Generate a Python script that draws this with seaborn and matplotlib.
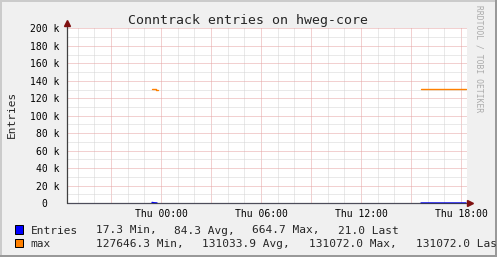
import matplotlib
matplotlib.use("Agg")
import matplotlib.pyplot as plt
from matplotlib.patches import Rectangle
from matplotlib.lines import Line2D
import numpy as np
import pandas as pd
import seaborn as sns

# ---------------- data ----------------
title = "Conntrack entries on hweg-core"
y_label = "Entries"
watermark = "RRDTOOL / TOBI OETIKER"

# hours relative to Thu 00:00
entries_hours = [-0.54, -0.42, -0.30, -0.24, 15.6, 16.5, 17.4, 18.3]
entries_values = [664.7, 300.0, 120.0, 60.0, 40.0, 25.0, 17.3, 21.0]
entries_segment = [0, 0, 0, 0, 1, 1, 1, 1]

max_hours = [-0.54, -0.30, -0.20, 15.6, 18.3]
max_values = [131072.0, 129100.0, 129100.0, 131072.0, 131072.0]
max_segment = [0, 0, 0, 1, 1]

x_range = [-5.64, 18.36]
x_label_hours = [0, 6, 12, 18]
x_labels = ["Thu 00:00", "Thu 06:00", "Thu 12:00", "Thu 18:00"]
y_ticks = [0, 20000, 40000, 60000, 80000, 100000, 120000, 140000, 160000, 180000, 200000]
y_tick_labels = ["0  ", "20 k", "40 k", "60 k", "80 k", "100 k", "120 k",
                 "140 k", "160 k", "180 k", "200 k"]

legend_names = ["Entries", "max"]
legend_colors = ["#0000FF", "#FF8000"]
legend_stats = [
    ["17.3 Min,", "84.3 Avg,", "664.7 Max,", "21.0 Last"],
    ["127646.3 Min,", "131033.9 Avg,", "131072.0 Max,", "131072.0 Last"],
]

df_entries = pd.DataFrame({"hour": entries_hours, "value": entries_values, "segment": entries_segment})
df_max = pd.DataFrame({"hour": max_hours, "value": max_values, "segment": max_segment})

# ---------------- style ----------------
W, H = 497, 257
BG = "#F0F0F0"
AXIS = "#404040"
ARROW = "#7F1010"
GRID_MINOR = "#D4D4D4"
GRID_MAJOR = "#E6A3A3"

sns.set_style("white")
plt.rcParams["font.family"] = ["DejaVu Sans Mono"]

def fx(x):
    return x / W

def fy(y):
    return 1 - y / H

fig = plt.figure(figsize=(W / 100, H / 100), dpi=100)
fig.patch.set_facecolor(BG)

left, right, top, bottom = 67, 467, 28.5, 203
ax = fig.add_axes([fx(left), fy(bottom), (right - left) / W, (bottom - top) / H])
ax.set_facecolor("white")

ax.set_xlim(*x_range)
ax.set_ylim(0, 200000)

# grid
ax.set_xticks(np.arange(-3, 19, 3))
ax.set_xticks(np.arange(-5, 19, 1), minor=True)
ax.set_xticklabels([x_labels[x_label_hours.index(h)] if h in x_label_hours else ""
                    for h in np.arange(-3, 19, 3)])
ax.set_yticks(y_ticks)
ax.set_yticks(np.arange(10000, 200000, 20000), minor=True)
ax.set_yticklabels(y_tick_labels)

ax.grid(which="minor", color=GRID_MINOR, linewidth=0.72, linestyle=(0, (1, 1)))
ax.grid(which="major", color=GRID_MAJOR, linewidth=0.72, linestyle=(0, (1, 1)))
ax.set_axisbelow(True)

ax.tick_params(axis="both", which="major", direction="inout", length=2.5, width=0.72,
               color=AXIS, labelsize=7, labelcolor="black")
ax.tick_params(axis="both", which="minor", direction="inout", length=1.5, width=0.72,
               color=AXIS)
ax.tick_params(axis="y", which="major", pad=4.3)
ax.tick_params(axis="x", which="major", pad=2.8)

for s in ax.spines.values():
    s.set_visible(False)

# series
sns.lineplot(data=df_entries, x="hour", y="value", units="segment", estimator=None,
             color=legend_colors[0], linewidth=1.0, ax=ax, legend=False, zorder=2.5,
             clip_on=False)
sns.lineplot(data=df_max, x="hour", y="value", units="segment", estimator=None,
             color=legend_colors[1], linewidth=1.0, drawstyle="steps-post",
             ax=ax, legend=False, zorder=4)
ax.set_xlabel("")
ax.set_ylabel("")

# axis lines and arrows
ax.plot([0, 1.003], [0, 0], transform=ax.transAxes, clip_on=False, color="#303040",
        lw=0.9, alpha=0.85, zorder=3)
ax.plot([0, 0], [0, 1.02], transform=ax.transAxes, clip_on=False, color=AXIS, lw=0.9, zorder=3)
ax.plot([(470 - left) / (right - left)], [0], marker=">", markersize=4, color=ARROW,
        transform=ax.transAxes, clip_on=False, zorder=5)
ax.plot([0], [(bottom - 23.5) / (bottom - top)], marker="^", markersize=4, color=ARROW,
        transform=ax.transAxes, clip_on=False, zorder=5)

# texts
fig.text(fx(247.5), fy(24), title, ha="center", va="baseline", fontsize=9.5)
fig.text(fx(11.5), fy(114), y_label, rotation=90, ha="center", va="center", fontsize=8)
fig.text(fx(479.5), fy(5), watermark, rotation=270, ha="center", va="top",
         fontsize=5.8, color="#ABABAB")

# legend
row_base = [233.5, 247.3]
stat_x = [[95.7, 174.0, 252.3, 337.5], [95.7, 201.7, 309.0, 416.5]]
for i in range(2):
    fig.add_artist(Rectangle((fx(15), fy(row_base[i])), 8 / W, 8.5 / H,
                             transform=fig.transFigure, facecolor=legend_colors[i],
                             edgecolor="black", linewidth=0.72))
    fig.text(fx(30.5), fy(row_base[i]), legend_names[i], ha="left", va="baseline", fontsize=8)
    for j, t in enumerate(legend_stats[i]):
        fig.text(fx(stat_x[i][j]), fy(row_base[i]), t, ha="left", va="baseline", fontsize=8)

# 3D frame
fig.add_artist(Line2D([0, 1], [fy(0.75), fy(0.75)], transform=fig.transFigure, color="#CBCBCB", lw=1.44))
fig.add_artist(Line2D([fx(0.75), fx(0.75)], [0, 1], transform=fig.transFigure, color="#CBCBCB", lw=1.44))
fig.add_artist(Line2D([0, 1], [fy(256.25), fy(256.25)], transform=fig.transFigure, color="#999999", lw=1.44))
fig.add_artist(Line2D([fx(496.25), fx(496.25)], [0, 1], transform=fig.transFigure, color="#999999", lw=1.44))

fig.savefig("out.png", dpi=100, facecolor=fig.get_facecolor())
